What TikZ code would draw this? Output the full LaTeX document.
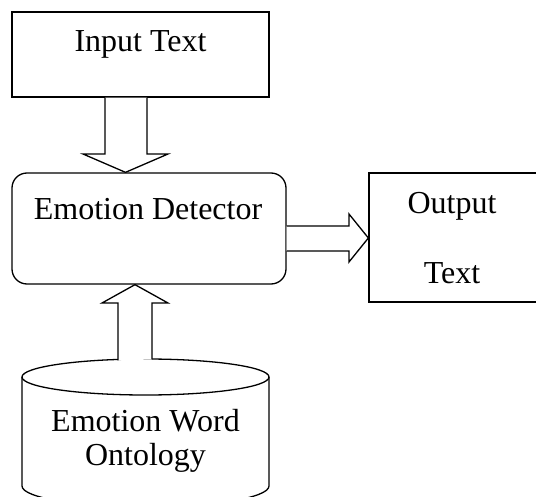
\documentclass[tikz,border=0pt]{standalone}
\usepackage{fontspec}
\setmainfont{Liberation Serif}
\usetikzlibrary{calc}
\tikzset{
  box/.style={draw, line width=1.3pt, inner sep=0pt},
  lbl/.style={font=\fontsize{32}{36}\selectfont, inner sep=0pt, anchor=center},
  blockarrow/.style={draw, line width=1.3pt, fill=white, line join=miter}
}
\begin{document}
\begin{tikzpicture}[x=1pt,y=-1pt]
\useasboundingbox (0,0) rectangle (536,497);
\begin{scope}
\clip (0,0) rectangle (536,497);
% Input Text box
\node[box, minimum width=257pt, minimum height=85pt] (in) at (140.5,54.5) {};
\node[lbl] (intxt) at (140.5,44) {Input Text};
% Emotion Detector
\node[box, rounded corners=15pt, minimum width=274pt, minimum height=111pt] (det) at (149,228.5) {};
\node[lbl] (dettxt) at (148,209) {Emotion Detector};
% Output Text box (right side runs off the picture)
\node[box, minimum width=220pt, minimum height=129pt] (out) at (479,237.5) {};
\node[lbl] (outtxt1) at (452,206) {Output};
\node[lbl] (outtxt2) at (452,273) {Text};
% Cylinder
\draw[line width=1.3pt] (22,377) -- (22,486) arc[start angle=180, end angle=360, x radius=123.5pt, y radius=21pt] -- (269,377);
\draw[line width=1.3pt] (145.5,377) ellipse [x radius=123.5pt, y radius=18pt];
\node (db) at (145.5,430) {};
\node[lbl] (dbtxt1) at (145.5,421) {Emotion Word};
\node[lbl] (dbtxt2) at (145.5,458) {Ontology};
% Down arrow: Input Text -> Emotion Detector
\coordinate (dtip) at (det.north -| 125.5,0);
\draw[blockarrow] (in.south -| 105,0) -- (105,154) -- (83,154) -- (dtip) -- (168,154) -- (147,154) -- (in.south -| 147,0);
% Right arrow: Emotion Detector -> Output Text
\coordinate (rtip) at (out.west |- 0,238);
\draw[blockarrow] (det.east |- 0,226) -- (349,226) -- (349,214) -- (rtip) -- (349,262) -- (349,251) -- (det.east |- 0,251);
% Up arrow: Ontology -> Emotion Detector
\coordinate (utip) at (det.south -| 135,0);
\draw[blockarrow] (118,360.5) -- (118,303) -- (102,303) -- (utip) -- (168,303) -- (152,303) -- (152,359.5);
\end{scope}
\end{tikzpicture}
\end{document}
